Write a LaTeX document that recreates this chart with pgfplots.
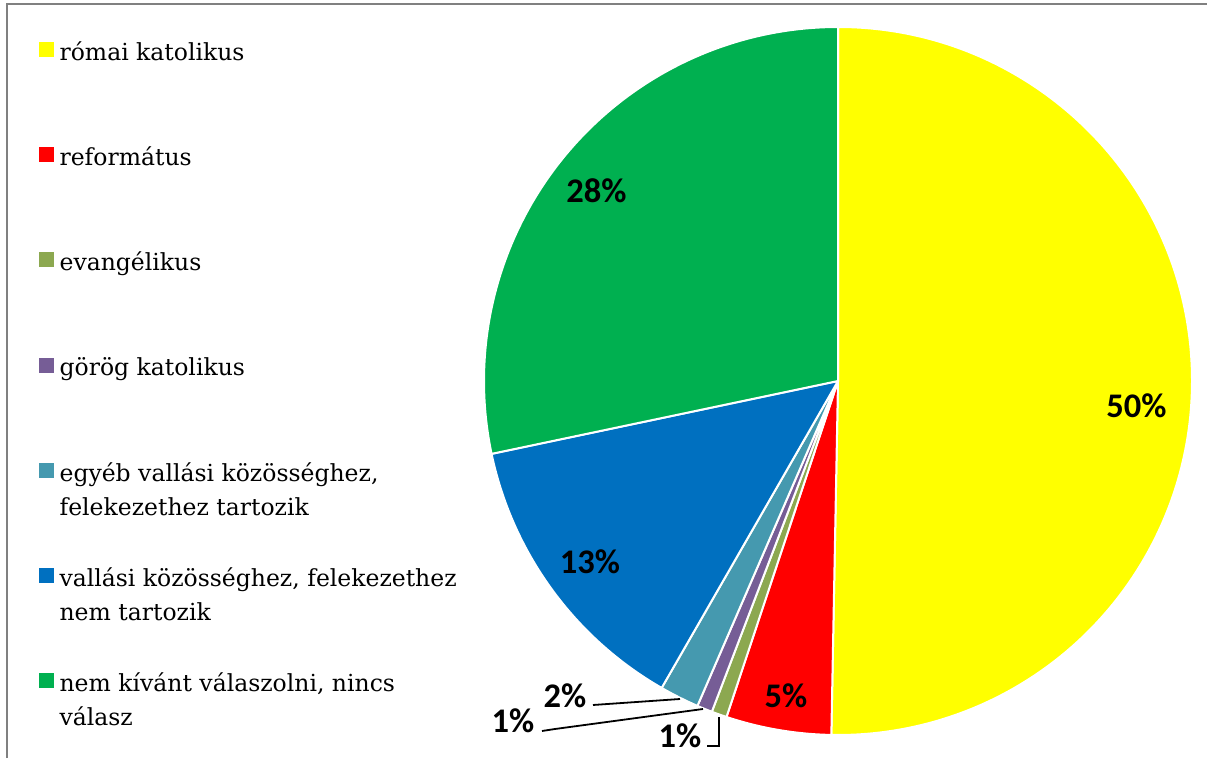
\documentclass[border=0pt]{standalone}
\usepackage{pgfplots}
\pgfplotsset{compat=1.18}
\usepackage{pgfplotstable}
\usepackage{fontspec}
\setmainfont{DejaVu Serif}
\newfontfamily\labfont{Carlito}
\definecolor{cYellow}{RGB}{255,255,0}
\definecolor{cRed}{RGB}{255,0,0}
\definecolor{cOlive}{RGB}{140,168,80}
\definecolor{cPurple}{RGB}{118,93,150}
\definecolor{cTeal}{RGB}{69,153,175}
\definecolor{cBlue}{RGB}{0,112,192}
\definecolor{cGreen}{RGB}{0,176,80}
\definecolor{frameGray}{RGB}{128,128,128}
\pgfplotstableread{
value colour
50.3 cYellow
4.8 cRed
0.7 cOlive
0.7 cPurple
1.8 cTeal
13.4 cBlue
28.3 cGreen
}\piedata
\newcommand{\lentry}[1]{\parbox[t]{420pt}{\strut #1}}
\begin{document}
\begin{tikzpicture}
\useasboundingbox (0,0) rectangle (1207pt,758pt);
\begin{axis}[
  at={(0,0)}, anchor=south west,
  scale only axis, width=1207pt, height=758pt,
  xmin=0, xmax=1207, ymin=0, ymax=758,
  hide axis, clip=false,
  legend style={at={(axis cs:39,722)}, anchor=north west, draw=none, fill=none,
    font=\fontsize{23.5}{34}\selectfont, row sep=80pt, column sep=6pt,
    inner sep=0pt, nodes={inner sep=0pt}},
  legend cell align=left,
  legend image code/.code={\fill[#1] (0pt,-7pt) rectangle (14pt,7pt);},
]
\addlegendimage{cYellow}\addlegendentry{\lentry{római katolikus}}
\addlegendimage{cRed}\addlegendentry{\lentry{református}}
\addlegendimage{cOlive}\addlegendentry{\lentry{evangélikus}}
\addlegendimage{cPurple}\addlegendentry{\lentry{görög katolikus}}
\addlegendimage{cTeal}\addlegendentry{\lentry{egyéb vallási közösséghez,\\ felekezethez tartozik}}
\addlegendimage{cBlue}\addlegendentry{\lentry{vallási közösséghez, felekezethez\\ nem tartozik}}
\addlegendimage{cGreen}\addlegendentry{\lentry{nem kívánt válaszolni, nincs\\ válasz}}

\def\acc{90}
\pgfplotsforeachungrouped \i in {0,...,6}{%
  \pgfplotstablegetelem{\i}{value}\of\piedata
  \let\val\pgfplotsretval
  \pgfplotstablegetelem{\i}{colour}\of\piedata
  \let\col\pgfplotsretval
  \pgfmathsetmacro\nxt{\acc-3.6*\val}%
  \edef\temp{\noexpand\fill[\col, draw=white, line width=2pt, line join=round] (axis cs:838,377) -- ++(\acc:354pt) arc[start angle=\acc, end angle=\nxt, radius=354pt] -- cycle;}%
  \temp
  \let\acc\nxt
}

\draw[frameGray, line width=2.5pt] (axis cs:7,0) -- (axis cs:7,754) -- (axis cs:1207,754);

\begin{scope}[every node/.style={font=\labfont\bfseries\fontsize{34.5}{38}\selectfont, anchor=base, inner sep=0pt}]
\node at (axis cs:1136.5,340) {50\%};
\node at (axis cs:596.5,555) {28\%};
\node at (axis cs:590,185) {13\%};
\node at (axis cs:786,51) {5\%};
\node at (axis cs:565,51) {2\%};
\node at (axis cs:513,26) {1\%};
\node at (axis cs:680,11) {1\%};
\end{scope}
\draw[black, line width=1.8pt] (axis cs:593,53) -- (axis cs:680,59);
\draw[black, line width=1.8pt] (axis cs:542,27) -- (axis cs:555,29) -- (axis cs:703,49);
\draw[black, line width=1.8pt] (axis cs:707,12) -- (axis cs:719,12) -- (axis cs:719,41);
\end{axis}
\end{tikzpicture}
\end{document}
